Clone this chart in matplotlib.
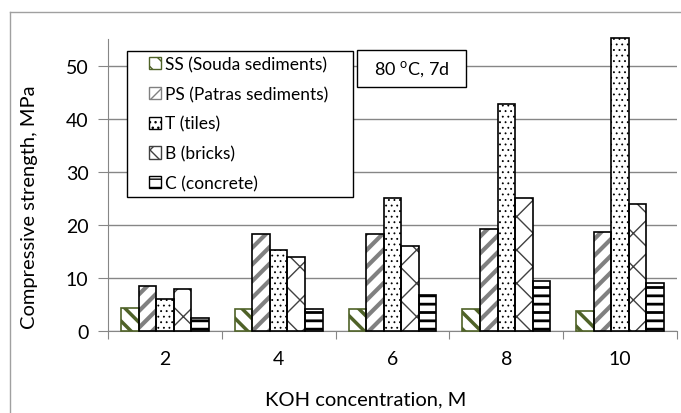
import matplotlib.pyplot as plt
import numpy as np
from matplotlib.patches import Patch, Rectangle
from matplotlib.lines import Line2D

plt.rcParams['font.family'] = ['Lato', 'DejaVu Sans']

# data
koh = ['2', '4', '6', '8', '10']
ss = [4.4, 4.1, 4.1, 4.2, 3.8]
ps = [8.4, 18.2, 18.2, 19.2, 18.6]
tiles = [6.1, 15.3, 25.0, 42.7, 55.1]
bricks = [8.0, 14.0, 16.0, 25.0, 24.0]
concrete = [2.4, 4.2, 6.7, 9.4, 9.1]

labels = ['SS (Souda sediments)', 'PS (Patras sediments)', 'T (tiles)',
          'B (bricks)', 'C (concrete)']
series = [ss, ps, tiles, bricks, concrete]
# (hatch, hatch colour, hatch linewidth, edge colour)
styles = [('\\\\', '#4f6228', 2.5, '#4f6228'),
          ('//', '#808080', 3.0, 'black'),
          ('...', 'black', 0.6, 'black'),
          ('x', '#404040', 1.0, 'black'),
          ('--', 'black', 2.0, 'black')]

W, H = 681, 414
fig = plt.figure(figsize=(W / 100, H / 100), dpi=100)
ax = fig.add_axes([108 / W, 1 - 332 / H, (677 - 108) / W, (332 - 40) / H])

x = np.arange(len(koh))
w = 0.154


def hatched(patch, lw):
    if hasattr(patch, 'set_hatch_linewidth'):
        patch.set_hatch_linewidth(lw)


for i, (vals, (hatch, hc, hlw, ec)) in enumerate(zip(series, styles)):
    pos = x + (i - 2) * w
    with plt.rc_context({'hatch.linewidth': hlw}):
        bars = ax.bar(pos, vals, w, color='white', edgecolor=hc, hatch=hatch,
                      linewidth=0, zorder=3, clip_on=False)
        for b in bars:
            hatched(b, hlw)
    ax.bar(pos, vals, w, facecolor='none', edgecolor=ec, linewidth=1.2,
           zorder=4, clip_on=False)

ax.set_ylim(0, 55)
ax.set_yticks(range(0, 51, 10))
ax.set_xlim(-0.5, len(koh) - 0.5)
ax.set_xticks(np.arange(-0.5, len(koh), 1))
ax.set_xticklabels([])
ax.set_xticks(x, minor=True)
ax.set_xticklabels(koh, minor=True)
ax.tick_params(axis='x', which='minor', length=0, pad=14, labelsize=14)
ax.tick_params(axis='x', which='major', length=6, color='#868686')
ax.tick_params(axis='y', length=7, color='#868686', pad=7, labelsize=14)
ax.grid(axis='y', color='#868686', linewidth=1, zorder=0)
for s in ['top', 'right']:
    ax.spines[s].set_visible(False)
for s in ['left', 'bottom']:
    ax.spines[s].set_color('#868686')

ax.set_ylabel('Compressive strength, MPa', fontsize=14.5)
ax.yaxis.set_label_coords(38 / W, 0.5, transform=fig.transFigure)
fig.text(366 / W, 1 - 400 / H, 'KOH concentration, M',
         fontsize=14.5, ha='center', va='center')

# outer chart border
fig.add_artist(Line2D([10 / W, 10 / W], [0, 1 - 13 / H], color='#a0a0a0',
                      linewidth=1, transform=fig.transFigure))
fig.add_artist(Line2D([10 / W, 1], [1 - 13 / H, 1 - 13 / H], color='#a0a0a0',
                      linewidth=1, transform=fig.transFigure))

# legend with its own frame
fig.add_artist(Rectangle((127 / W, 1 - 198 / H), 226 / W, 146 / H,
                         transform=fig.transFigure, facecolor='white',
                         edgecolor='black', linewidth=1, zorder=5))
handles = []
for hatch, hc, hlw, ec in styles:
    p = Patch(facecolor='white', edgecolor=hc, hatch=hatch, linewidth=1)
    handles.append(p)
leg = fig.legend(handles, labels, loc='upper left',
                 bbox_to_anchor=(149 / W, 1 - 57 / H), frameon=False,
                 fontsize=12.5, handlelength=0.7, handleheight=0.7,
                 handletextpad=0.25, labelspacing=0.79, borderpad=0,
                 borderaxespad=0)
leg.set_zorder(6)

# condition box
fig.add_artist(Rectangle((357 / W, 1 - 88 / H), 109 / W, 37 / H,
                         transform=fig.transFigure, facecolor='white',
                         edgecolor='black', linewidth=1, zorder=5))
fig.text(411.5 / W, 1 - 69.5 / H, '80 $^{\\mathregular{o}}$C, 7d',
         fontsize=13, ha='center', va='center', zorder=6)

plt.savefig('out.png', dpi=100)
